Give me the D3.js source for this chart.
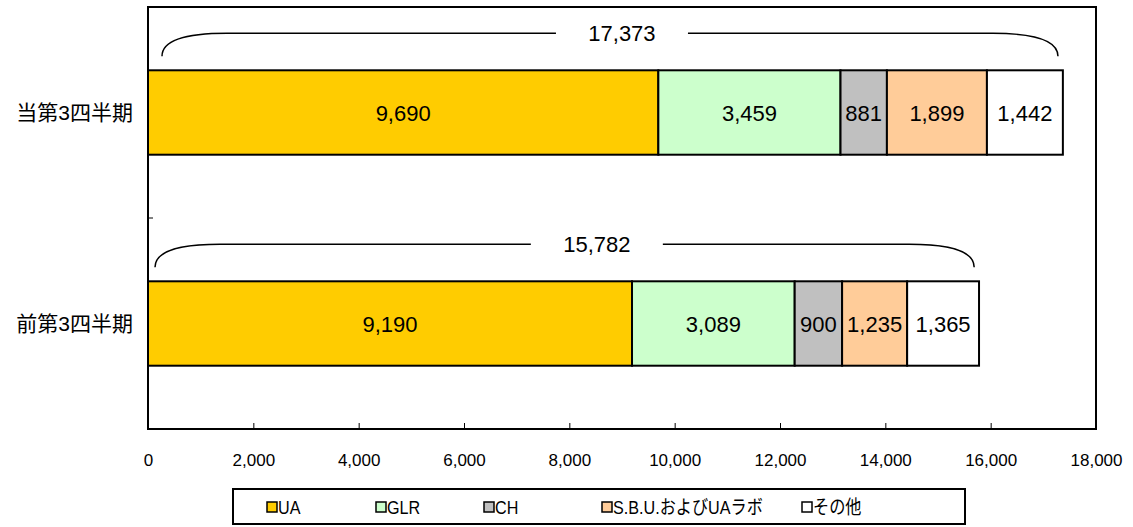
<!DOCTYPE html>
<html>
<head>
<meta charset="utf-8">
<script src="https://cdn.jsdelivr.net/npm/d3@7"></script>
<style>
	body { margin: 0; background: #fff; }
	text { font-family: "Liberation Sans", Arial, "Noto Sans CJK JP", sans-serif; }
</style>
</head>
<body>
<svg id="chart" width="1133" height="527"></svg>
<script>
// データ
var categories = ['当第3四半期', '前第3四半期'];
var series = ['UA', 'GLR', 'CH', 'S.B.U.およびUAラボ', 'その他'];
var colors = ['#FFCC00', '#CCFFCC', '#C0C0C0', '#FFCC99', '#FFFFFF'];
var current = [9690, 3459, 881, 1899, 1442];
var previous = [9190, 3089, 900, 1235, 1365];
var totals = [17373, 15782];
var ticks = [0, 2000, 4000, 6000, 8000, 10000, 12000, 14000, 16000, 18000];

var values = [current, previous];

var svg = d3.select('#chart');
var pLeft = 148, pRight = 1096, pTop = 7, pBottom = 429;

var x = d3.scaleLinear().domain([0, 18000]).range([pLeft, pRight]);
var y = d3.scaleBand().domain(categories).range([pTop, pBottom]).paddingInner(0.6).paddingOuter(0.3);
var fmt = d3.format(',');

// 枠
svg.append('rect')
	.attr('x', pLeft).attr('y', pTop)
	.attr('width', pRight - pLeft).attr('height', pBottom - pTop)
	.attr('fill', 'none').attr('stroke', '#000').attr('stroke-width', 2);

// x軸
var xAxis = d3.axisBottom(x).tickValues(ticks).tickFormat(fmt).tickSizeInner(-6).tickSizeOuter(0).tickPadding(25);
var gx = svg.append('g').attr('transform', 'translate(0,' + pBottom + ')').call(xAxis);
gx.select('.domain').remove();
gx.selectAll('line').attr('stroke', '#000');
gx.selectAll('text').attr('font-size', 17).attr('fill', '#000').attr('font-family', '"Liberation Sans", Arial, sans-serif');

// y軸の目盛
svg.append('line')
	.attr('x1', pLeft).attr('x2', pLeft + 5)
	.attr('y1', (pTop + pBottom) / 2).attr('y2', (pTop + pBottom) / 2)
	.attr('stroke', '#000');

var labelPos = [0.518, 0.54];

categories.forEach(function (cat, ci) {
	var vals = values[ci];
	var acc = 0;
	var by = y(cat), bh = y.bandwidth();

	vals.forEach(function (v, si) {
		var x0 = x(acc), x1 = x(acc + v);
		svg.append('rect')
			.attr('x', x0).attr('y', by)
			.attr('width', x1 - x0).attr('height', bh)
			.attr('fill', colors[si])
			.attr('stroke', '#000').attr('stroke-width', 2);
		svg.append('text')
			.attr('x', (x0 + x1) / 2).attr('y', by + bh / 2 + 8)
			.attr('text-anchor', 'middle')
			.attr('font-size', 22)
			.text(fmt(v));
		acc += v;
	});

	// カテゴリ名
	svg.append('text')
		.attr('x', 133).attr('y', by + bh / 2 + 7)
		.attr('text-anchor', 'end')
		.attr('font-size', 21)
		.attr('font-family', '"Noto Sans CJK JP", sans-serif')
		.text(cat);

	// 合計の括弧
	var bx0 = x(0) + (ci == 0 ? 14 : 7);
	var bx1 = x(totals[ci]) - 5;
	var ly = by - 37, ey = by - 14;
	var cw = 65;
	var tx = x(totals[ci] * labelPos[ci]);
	var gap = 66;

	svg.append('path')
		.attr('d', 'M' + bx0 + ',' + ey + ' C' + bx0 + ',' + (ly + 4) + ' ' + (bx0 + cw * 0.5) + ',' + ly + ' ' + (bx0 + cw) + ',' + ly
			+ ' L' + (tx - gap) + ',' + ly)
		.attr('fill', 'none').attr('stroke', '#000').attr('stroke-width', 1.5);
	svg.append('path')
		.attr('d', 'M' + (tx + gap) + ',' + ly + ' L' + (bx1 - cw) + ',' + ly
			+ ' C' + (bx1 - cw * 0.5) + ',' + ly + ' ' + bx1 + ',' + (ly + 4) + ' ' + bx1 + ',' + ey)
		.attr('fill', 'none').attr('stroke', '#000').attr('stroke-width', 1.5);
	svg.append('text')
		.attr('x', tx).attr('y', ly + 8)
		.attr('text-anchor', 'middle')
		.attr('font-size', 22)
		.text(fmt(totals[ci]));
});

// 凡例
var legendX = [267, 376, 484, 602, 802];
svg.append('rect')
	.attr('x', 233).attr('y', 489).attr('width', 732).attr('height', 35)
	.attr('fill', '#fff').attr('stroke', '#000').attr('stroke-width', 2);

var lg = svg.selectAll('.legend').data(series).enter().append('g')
	.attr('class', 'legend')
	.attr('transform', function (d, i) { return 'translate(' + legendX[i] + ',507)'; });
lg.append('rect')
	.attr('x', 0).attr('y', -5).attr('width', 10).attr('height', 10)
	.attr('fill', function (d, i) { return colors[i]; })
	.attr('stroke', '#000').attr('stroke-width', 1.5);
lg.append('text')
	.attr('transform', 'translate(11,7) scale(0.85,1)')
	.attr('font-size', 19)
	.text(function (d) { return d; });
</script>
</body>
</html>
